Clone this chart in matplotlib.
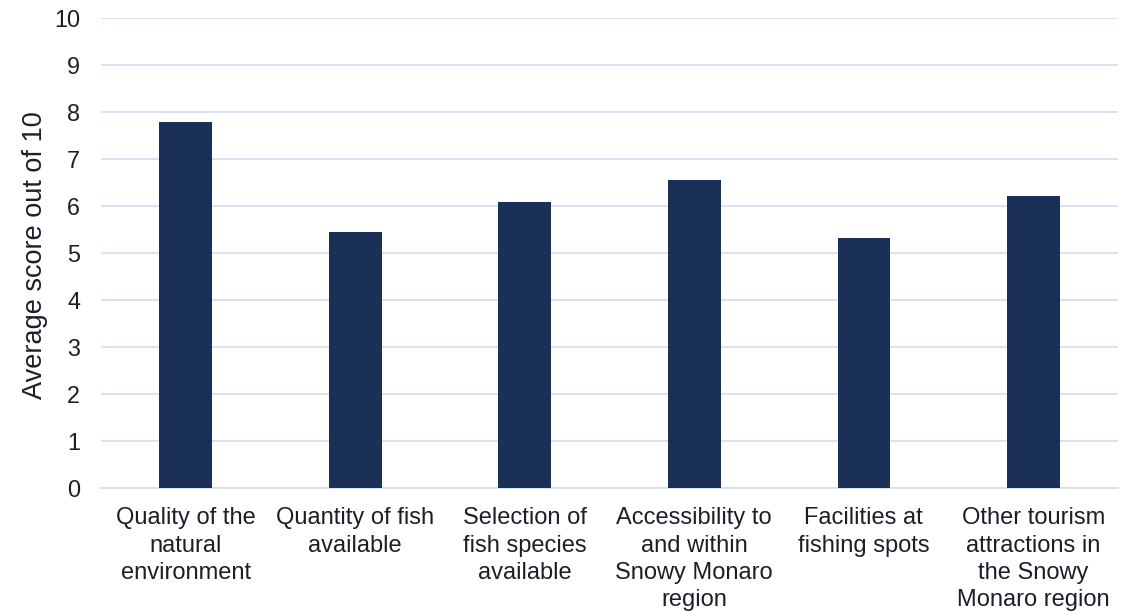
import numpy as np
import matplotlib.pyplot as plt

plt.rcParams['font.family'] = ['Liberation Sans', 'DejaVu Sans']

# Average rating per fishing attribute
categories = [
    'Quality of the\nnatural\nenvironment',
    'Quantity of fish\navailable',
    'Selection of\nfish species\navailable',
    'Accessibility to\nand within\nSnowy Monaro\nregion',
    'Facilities at\nfishing spots',
    'Other tourism\nattractions in\nthe Snowy\nMonaro region',
]
scores = [7.78, 5.45, 6.08, 6.55, 5.31, 6.22]
yticks = list(range(0, 11))

bar_color = '#1b3057'
grid_color = '#d6dff1'
text_color = '#1c1f29'

fig = plt.figure(figsize=(11.34, 6.11), dpi=100)
ax = fig.add_axes([0.089, 0.2013, 0.897, 0.7692])

x = np.arange(len(categories))
ax.bar(x, scores, width=0.31, color=bar_color, zorder=3)

ax.set_xlim(-0.5, len(categories) - 0.5)
ax.set_ylim(0, 10)
ax.set_yticks(yticks)
ax.set_yticklabels([str(t) for t in yticks], fontsize=16.8, color=text_color)
ax.set_xticks(x)
ax.set_xticklabels(categories, fontsize=17, color=text_color, linespacing=1.3,
                   va='top')
ax.tick_params(axis='both', length=0)
ax.tick_params(axis='x', pad=14)
ax.tick_params(axis='y', pad=15)

ax.grid(axis='y', color=grid_color, linewidth=1.3, zorder=0)
for side in ['top', 'right', 'left']:
    ax.spines[side].set_visible(False)
ax.spines['bottom'].set_color(grid_color)
ax.spines['bottom'].set_linewidth(1.3)

fig.text(35 / 1134, 1 - 255 / 611, 'Average score out of 10', rotation=90,
         ha='center', va='center', fontsize=19.5, color=text_color)

fig.savefig('out.png', dpi=100)
